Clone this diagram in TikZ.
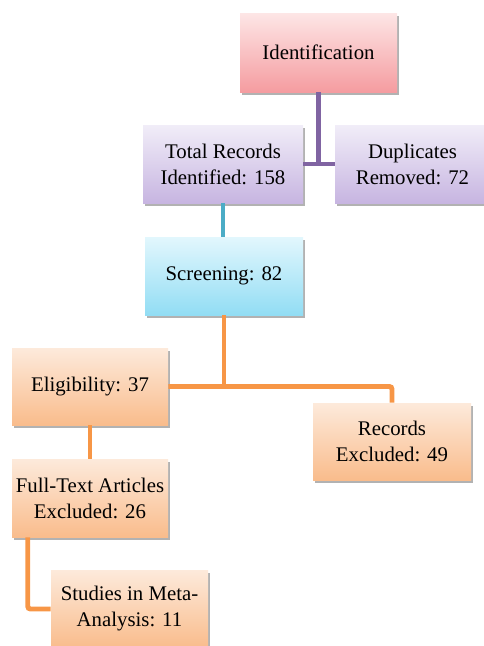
\documentclass[tikz,border=0pt]{standalone}
\usepackage{fontspec}
\setmainfont{Liberation Serif}
\usetikzlibrary{shadows,positioning}
\definecolor{pinkT}{HTML}{FDE6E6}
\definecolor{pinkB}{HTML}{F59CA0}
\definecolor{purT}{HTML}{F1EDF8}
\definecolor{purB}{HTML}{C7B5E1}
\definecolor{bluT}{HTML}{E2F7FD}
\definecolor{bluB}{HTML}{92DDF4}
\definecolor{orT}{HTML}{FDEADB}
\definecolor{orB}{HTML}{F9BC8C}
\definecolor{purL}{HTML}{8064A2}
\definecolor{bluL}{HTML}{4BACC6}
\definecolor{orL}{HTML}{F79646}
\tikzset{
  box/.style={rectangle, align=center, inner sep=0pt,
    font=\fontsize{15.6pt}{19.5pt}\selectfont,
    drop shadow={shadow xshift=1.5pt, shadow yshift=-2pt, opacity=0.3, fill=black}},
  pinkbox/.style={box, top color=pinkT, bottom color=pinkB},
  purbox/.style={box, top color=purT, bottom color=purB},
  blubox/.style={box, top color=bluT, bottom color=bluB},
  orbox/.style={box, top color=orT, bottom color=orB},
  conn/.style={line width=3.7pt},
}
\begin{document}
\begin{tikzpicture}[x=0.75pt,y=-0.75pt]
\useasboundingbox (0,0) rectangle (484,646);
\clip (0,0) rectangle (484,646);
\node[pinkbox, minimum width=117.75pt, minimum height=59.25pt] (ident) at (318.5,52.5) {Identification};
\node[purbox, minimum width=120pt, minimum height=58.5pt] (total) at (223,164) {Total Records\\Identified: 158};
\node[purbox, minimum width=116.25pt, minimum height=58.5pt] (dup) at (412.5,164) {Duplicates\\Removed: 72};
\node[blubox, minimum width=118.5pt, minimum height=58.5pt] (screen) at (224,276) {Screening: 82};
\node[orbox, minimum width=117pt, minimum height=57.75pt] (elig) at (90,386.5) {Eligibility: 37};
\node[orbox, minimum width=118.5pt, minimum height=57.75pt] (rec) at (392,441.5) {Records\\Excluded: 49};
\node[orbox, minimum width=117pt, minimum height=58.5pt] (full) at (90,498) {Full-Text Articles\\Excluded: 26};
\node[orbox, minimum width=117.75pt, minimum height=58.5pt] (stud) at (129.5,609) {Studies in Meta-\\Analysis: 11};
\draw[conn, purL] (ident.south) -- (ident.south |- total.east);
\draw[conn, purL] (total.east) -- (dup.west);
\draw[conn, bluL] (total.south) -- (total.south |- screen.north);
\draw[conn, orL] (screen.south) -- (screen.south |- elig.east);
\draw[conn, orL, rounded corners=2pt] (elig.east) -| (rec.north);
\draw[conn, orL] (elig.south) -- (full.north);
\draw[conn, orL, rounded corners=2pt] ([xshift=12pt]full.south west) |- (stud.west);
\end{tikzpicture}
\end{document}
